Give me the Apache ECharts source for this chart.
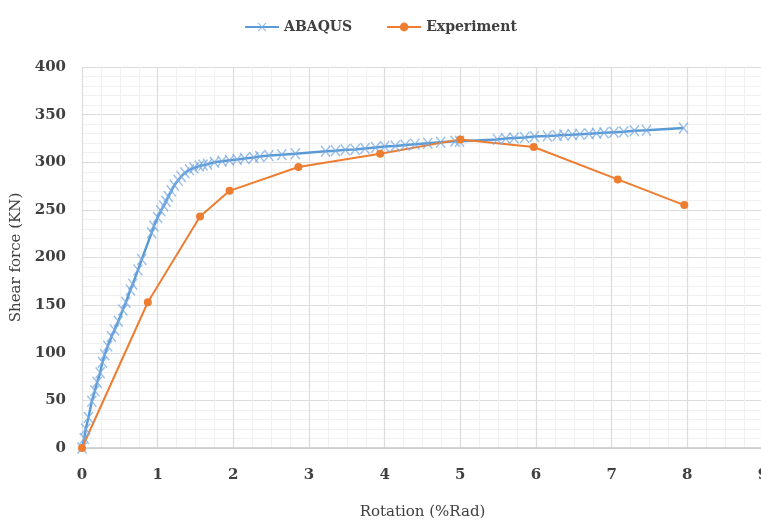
<!DOCTYPE html>
<html>
<head>
<meta charset="utf-8">
<script src="https://cdn.jsdelivr.net/npm/echarts@6/dist/echarts.min.js"></script>
<style>
  html, body { margin: 0; padding: 0; background: #fff; }
  #chart { width: 761px; height: 521px; }
</style>
</head>
<body>
<div id="chart"></div>
<script>
// ABAQUS curve (rotation %rad, shear force kN)
var abaqusX = [0, 0.03, 0.05, 0.085, 0.13, 0.17, 0.2, 0.24, 0.27, 0.3, 0.34, 0.39, 0.43, 0.48, 0.54, 0.58, 0.64, 0.67, 0.74, 0.79, 0.92, 0.95, 1.0, 1.04, 1.08, 1.11, 1.14,
  1.18, 1.22, 1.27, 1.31, 1.36, 1.42, 1.48, 1.55, 1.6, 1.66, 1.75, 1.85, 1.95, 2.05, 2.15, 2.27, 2.35,
  2.47, 2.64, 2.82, 3.22, 3.35, 3.48, 3.61, 3.74, 3.88, 4.0, 4.14, 4.27, 4.4, 4.57, 4.74, 4.93, 4.99,
  5.49, 5.6, 5.71, 5.85, 5.98, 6.15, 6.28, 6.37, 6.48, 6.58, 6.7, 6.8, 6.9, 7.03, 7.16, 7.3, 7.46, 7.95]
var abaqusY = [0, 10, 20, 32, 49, 60, 69, 79, 90, 98, 107, 117, 124, 133, 145, 153, 166, 172, 187, 198, 226, 233, 242, 249, 254, 259, 264,
  270, 276, 281, 285, 289, 292, 294, 296, 297, 298, 300, 301, 302, 303, 304, 305, 306,
  307, 308, 309, 311.5, 312, 313, 313.5, 314.5, 315.5, 316.5, 317, 318, 319, 320, 321, 322, 322,
  324, 325, 325.5, 326, 327, 327.5, 328, 328.5, 329, 329.5, 330, 330.5, 331, 331.5, 332, 333, 333.5, 336]

// Experiment
var expX = [0, 0.87, 1.56, 1.95, 2.86, 3.94, 5.0, 5.97, 7.08, 7.96]
var expY = [0, 153, 243, 270, 295, 309, 324, 316, 282, 255]

var xTicks = { min: 0, max: 9, interval: 1 }
var yTicks = { min: 0, max: 400, interval: 50 }

function pairs(xs, ys) {
  var out = []
  for (var i = 0; i < xs.length; i++) {
    out.push([xs[i], ys[i]])
  }
  return out
}

var crossMark = 'path://M0,1L1,0L5,4.2L9,0L10,1L5.8,5L10,9L9,10L5,5.8L1,10L0,9L4.2,5Z'
var txtFont = 'DejaVu Serif'

var chart = echarts.init(document.getElementById('chart'))
chart.setOption({
  animation: false,
  textStyle: { fontFamily: txtFont },
  legend: {
    top: 15,
    left: 'center',
    itemGap: 34,
    itemWidth: 34,
    itemHeight: 11,
    textStyle: { fontFamily: txtFont, fontSize: 14, color: '#404040', fontWeight: 'bold' },
    data: ['ABAQUS', 'Experiment']
  },
  grid: { left: 82, right: -2, top: 67, bottom: 73, containLabel: false, outerBoundsMode: 'none' },
  xAxis: {
    type: 'value',
    min: xTicks.min,
    max: xTicks.max,
    interval: xTicks.interval,
    name: 'Rotation (%Rad)',
    nameLocation: 'middle',
    nameGap: 57,
    nameTextStyle: { fontFamily: txtFont, fontSize: 15, color: '#404040' },
    axisLine: { show: true, lineStyle: { color: '#c8c8c8', width: 1.5 } },
    axisTick: { show: false },
    minorTick: { show: false, splitNumber: 4 },
    axisLabel: { fontFamily: txtFont, fontSize: 15, color: '#404040', fontWeight: 'bold', margin: 20, hideOverlap: false },
    splitLine: { show: true, lineStyle: { color: '#dcdcdc', width: 1.2 } },
    minorSplitLine: { show: true, lineStyle: { color: '#f0f0f0', width: 1 } }
  },
  yAxis: {
    type: 'value',
    min: yTicks.min,
    max: yTicks.max,
    interval: yTicks.interval,
    name: 'Shear force (KN)',
    nameLocation: 'middle',
    nameGap: 52,
    nameTextStyle: { fontFamily: txtFont, fontSize: 15, color: '#404040' },
    axisLine: { show: false },
    axisTick: { show: false },
    minorTick: { show: false, splitNumber: 5 },
    axisLabel: { fontFamily: txtFont, fontSize: 15, color: '#404040', fontWeight: 'bold', margin: 16 },
    splitLine: { show: true, lineStyle: { color: '#dcdcdc', width: 1.2 } },
    minorSplitLine: { show: true, lineStyle: { color: '#f0f0f0', width: 1 } }
  },
  series: [
    {
      name: 'ABAQUS',
      type: 'line',
      data: pairs(abaqusX, abaqusY),
      smooth: false,
      symbol: crossMark,
      symbolSize: [10, 12],
      showAllSymbol: true,
      lineStyle: { color: '#5b9bd5', width: 2.5 },
      itemStyle: { color: 'rgba(120,170,225,0.75)' }
    },
    {
      name: 'Experiment',
      type: 'line',
      data: pairs(expX, expY),
      symbol: 'circle',
      symbolSize: 8,
      lineStyle: { color: '#ed7d31', width: 2 },
      itemStyle: { color: '#ed7d31' }
    }
  ]
})
</script>
</body>
</html>
